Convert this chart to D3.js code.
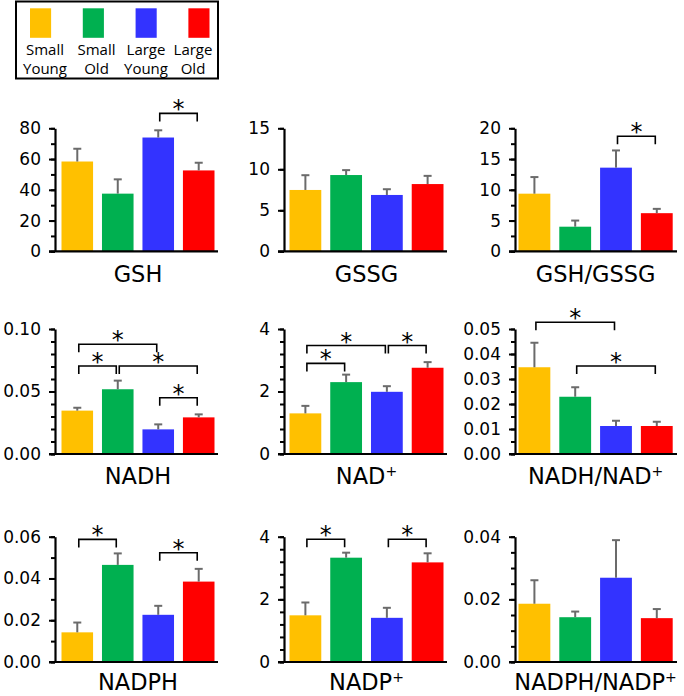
<!DOCTYPE html>
<html><head><meta charset="utf-8">
<script src="https://cdn.jsdelivr.net/npm/d3@7"></script>
<style>
html,body{margin:0;padding:0;background:#fff;}
svg text{font-family:"DejaVu Sans",sans-serif;fill:#000;}
</style></head>
<body><svg id="chart" width="684" height="696"></svg>
<script>
// ---------- data ----------
const groups = ["Small Young", "Small Old", "Large Young", "Large Old"];
const groupColors = ["#FFC000", "#00B050", "#3333FF", "#FF0000"];

const panelNames = ["GSH", "GSSG", "GSH/GSSG", "NADH", "NAD+", "NADH/NAD+", "NADPH", "NADP+", "NADPH/NADP+"];

const gshMean = [58.4, 37.5, 74.0, 52.6];
const gshErr = [8.3, 9.3, 4.7, 5.0];
const gssgMean = [7.48, 9.3, 6.87, 8.2];
const gssgErr = [1.8, 0.6, 0.7, 1.0];
const gshRatioMean = [9.37, 4.0, 13.6, 6.2];
const gshRatioErr = [2.7, 1.0, 2.8, 0.7];
const nadhMean = [0.0347, 0.0518, 0.0197, 0.0293];
const nadhErr = [0.0023, 0.0069, 0.0040, 0.0024];
const nadMean = [1.30, 2.30, 1.99, 2.76];
const nadErr = [0.24, 0.24, 0.18, 0.18];
const nadRatioMean = [0.0347, 0.0229, 0.0112, 0.0112];
const nadRatioErr = [0.0098, 0.0038, 0.0021, 0.0017];
const nadphMean = [0.0142, 0.0465, 0.0226, 0.0385];
const nadphErr = [0.0047, 0.0055, 0.0043, 0.0061];
const nadpMean = [1.49, 3.33, 1.41, 3.18];
const nadpErr = [0.41, 0.16, 0.32, 0.29];
const nadpRatioMean = [0.0186, 0.0143, 0.0269, 0.0140];
const nadpRatioErr = [0.0075, 0.0018, 0.0120, 0.0029];

// axis: max, major step, minor step, decimals
const yMax = [80, 15, 20, 0.10, 4, 0.05, 0.06, 4, 0.04];
const yMajor = [20, 5, 5, 0.05, 2, 0.01, 0.02, 2, 0.02];
const yMinor = [10, 5, 2.5, 0.01, 0.4, 0.005, 0.01, 0.4, 0.005];
const yDecimals = [0, 0, 0, 2, 0, 2, 2, 0, 2];

// significance brackets: [panel, groupA, groupB, level (data units)]
const sigBrackets = [
  [0, 2, 3, 89.7],
  [2, 2, 3, 18.7],
  [3, 0, 2, 0.0878], [3, 0, 1, 0.0704], [3, 1, 3, 0.0704], [3, 2, 3, 0.045],
  [4, 0, 2, 3.47], [4, 0, 1, 2.90], [4, 2, 3, 3.47],
  [5, 0, 2, 0.0527], [5, 1, 3, 0.0352],
  [6, 0, 1, 0.0587], [6, 2, 3, 0.0523],
  [7, 0, 1, 3.92], [7, 2, 3, 3.92]
];

const means = [gshMean, gssgMean, gshRatioMean, nadhMean, nadMean, nadRatioMean, nadphMean, nadpMean, nadpRatioMean];
const errs = [gshErr, gssgErr, gshRatioErr, nadhErr, nadErr, nadRatioErr, nadphErr, nadpErr, nadpRatioErr];

// ---------- layout ----------
const colAxisX = [55, 284, 515];
const colBarRange = [[61.5, 214.5], [289.5, 443.5], [518.5, 672.7]];
const colAxisEnd = [218, 447, 677];
const rowY0 = [251.3, 454, 662];
const rowYTop = [128.3, 329, 536.7];
const rowTitleY = [282, 483.5, 690];

const svg = d3.select("#chart");

// ---------- legend ----------
const legend = svg.append("g");
legend.append("rect").attr("x", 16).attr("y", 1.5).attr("width", 202).attr("height", 77)
  .attr("fill", "none").attr("stroke", "#000").attr("stroke-width", 2);
const legX = d3.scaleBand().domain(groups).range([30, 209.5]).paddingInner(0.6).paddingOuter(0);
const legTextX = [45, 96.5, 146, 193];
groups.forEach((g, i) => {
  legend.append("rect").attr("x", legX(g)).attr("y", 8.3).attr("width", legX.bandwidth()).attr("height", 29.5)
    .attr("fill", groupColors[i]);
  const words = g.split(" ");
  [0, 1].forEach(k => {
    legend.append("text").attr("text-anchor", "middle").attr("font-size", 15)
      .style("font-family", "'Open Sans', sans-serif")
      .attr("x", legTextX[i]).attr("y", k === 0 ? 54.5 : 73.5).text(words[k]);
  });
});

// ---------- panels ----------
panelNames.forEach((name, p) => {
  const col = p % 3, row = Math.floor(p / 3);
  const g = svg.append("g");
  const x = d3.scaleBand().domain(groups).range(colBarRange[col]).paddingInner(0.22).paddingOuter(0);
  const y = d3.scaleLinear().domain([0, yMax[p]]).range([rowY0[row], rowYTop[row]]);
  const ax = colAxisX[col];

  const majorVals = d3.range(0, Math.round(yMax[p] / yMajor[p]) + 1).map(k => k * yMajor[p]);
  const minorVals = d3.range(0, Math.round(yMax[p] / yMinor[p]) + 1).map(k => k * yMinor[p]);

  // bars
  g.selectAll("rect.bar").data(means[p]).enter().append("rect")
    .attr("x", (d, i) => x(groups[i])).attr("width", x.bandwidth())
    .attr("y", d => y(d)).attr("height", d => y(0) - y(d))
    .attr("fill", (d, i) => groupColors[i]);

  // error bars (upper only)
  const eg = g.append("g").attr("stroke", "#6b6b6b").attr("stroke-width", 2).attr("fill", "none");
  means[p].forEach((m, i) => {
    const cx = x(groups[i]) + x.bandwidth() / 2;
    eg.append("line").attr("x1", cx).attr("x2", cx).attr("y1", y(m)).attr("y2", y(m + errs[p][i]));
    eg.append("line").attr("x1", cx - 4).attr("x2", cx + 4).attr("y1", y(m + errs[p][i])).attr("y2", y(m + errs[p][i]));
  });

  // minor ticks
  const minorAxis = d3.axisLeft(y).tickValues(minorVals).tickSize(4).tickFormat("");
  const mg = g.append("g").attr("transform", `translate(${ax},0)`).call(minorAxis);
  mg.select(".domain").remove();
  mg.selectAll("line").attr("stroke-width", 2);

  // major ticks + labels
  const majorAxis = d3.axisLeft(y).tickValues(majorVals).tickSize(6).tickSizeOuter(0).tickPadding(8)
    .tickFormat(d3.format(`.${yDecimals[p]}f`));
  const ag = g.append("g").attr("transform", `translate(${ax},0)`).call(majorAxis);
  ag.select(".domain").attr("stroke-width", 2.2);
  ag.selectAll("line").attr("stroke-width", 2);
  ag.selectAll("text").attr("font-size", 17).attr("font-family", "DejaVu Sans").attr("fill", "#000");

  // x axis line
  g.append("line").attr("x1", ax - 6).attr("x2", colAxisEnd[col]).attr("y1", y(0)).attr("y2", y(0))
    .attr("stroke", "#000").attr("stroke-width", 2.2);

  // significance brackets
  sigBrackets.filter(b => b[0] === p).forEach(b => {
    const x1 = x(groups[b[1]]) + x.bandwidth() / 2 + 1.5;
    const x2 = x(groups[b[2]]) + x.bandwidth() / 2 - 1.5;
    const yy = y(b[3]);
    g.append("path").attr("d", `M${x1},${yy + 8}V${yy}H${x2}V${yy + 8}`)
      .attr("fill", "none").attr("stroke", "#000").attr("stroke-width", 1.6);
    g.append("text").attr("x", (x1 + x2) / 2).attr("y", yy + 4).attr("text-anchor", "middle")
      .attr("font-size", 24).text("*");
  });

  // title
  const cx = (colBarRange[col][0] + colBarRange[col][1]) / 2;
  const t = g.append("text").attr("x", cx).attr("y", rowTitleY[row]).attr("text-anchor", "middle").attr("font-size", 22.5);
  const parts = name.split("+");
  parts.forEach((part, k) => {
    if (part) t.append("tspan").text(part);
    if (k < parts.length - 1) t.append("tspan").attr("font-size", 14).attr("dy", -8).text("+");
    if (k < parts.length - 1 && parts[k + 1]) t.append("tspan").attr("dy", 8).text("");
  });
});
</script></body></html>
